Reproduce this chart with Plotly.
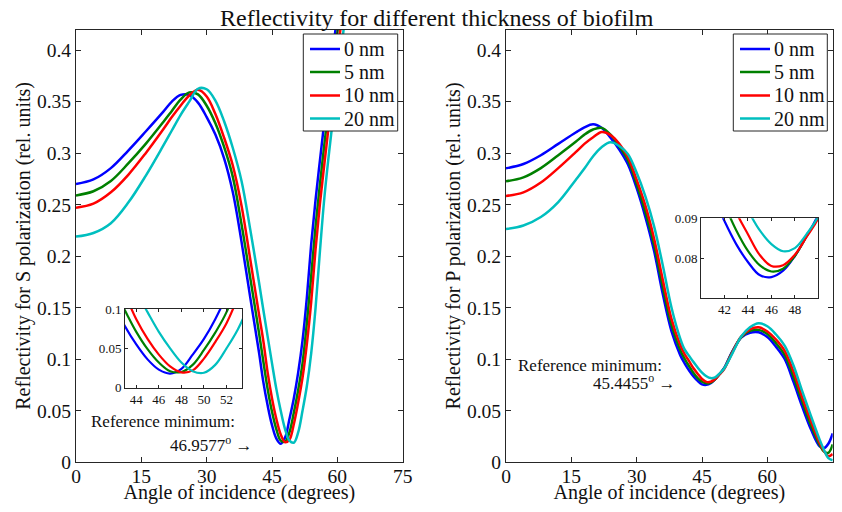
import plotly.graph_objects as go

# ---------------- data ----------------
thickness_labels = ['0 nm', '5 nm', '10 nm', '20 nm']

angles_s = [0, 4, 8, 12, 16, 20, 22, 24, 26, 28, 30, 32, 34, 36, 38, 40, 42, 43, 44, 45, 46, 47,
            48, 49, 50, 51, 52, 53, 54, 55, 56, 57, 58, 59, 60, 61, 62, 63]
s_0nm = [0.270, 0.2745, 0.2855, 0.3025, 0.321, 0.340, 0.350, 0.3565, 0.3565, 0.349, 0.335, 0.318,
         0.295, 0.262, 0.214, 0.160, 0.107, 0.078, 0.055, 0.036, 0.023, 0.018, 0.024, 0.042,
         0.062, 0.087, 0.118, 0.160, 0.212, 0.255, 0.293, 0.330, 0.366, 0.400, 0.435, 0.470,
         0.500, 0.530]
s_5nm = [0.259, 0.263, 0.273, 0.290, 0.309, 0.330, 0.341, 0.352, 0.359, 0.357, 0.346, 0.329,
         0.306, 0.277, 0.231, 0.179, 0.126, 0.098, 0.071, 0.049, 0.032, 0.021, 0.020, 0.029,
         0.048, 0.070, 0.096, 0.135, 0.181, 0.229, 0.270, 0.308, 0.344, 0.383, 0.417, 0.452,
         0.485, 0.515]
s_10nm = [0.247, 0.251, 0.262, 0.279, 0.300, 0.323, 0.335, 0.346, 0.356, 0.3615, 0.355, 0.338,
          0.315, 0.288, 0.249, 0.197, 0.144, 0.118, 0.087, 0.062, 0.042, 0.027, 0.0195, 0.022,
          0.037, 0.058, 0.082, 0.115, 0.156, 0.207, 0.251, 0.289, 0.326, 0.362, 0.397, 0.430,
          0.465, 0.500]
s_20nm = [0.219, 0.2225, 0.232, 0.252, 0.278, 0.307, 0.322, 0.337, 0.350, 0.3625, 0.362, 0.351,
          0.331, 0.305, 0.273, 0.226, 0.175, 0.148, 0.122, 0.096, 0.071, 0.050, 0.032, 0.021,
          0.019, 0.029, 0.050, 0.074, 0.106, 0.150, 0.205, 0.256, 0.297, 0.334, 0.369, 0.404,
          0.440, 0.470]

angles_p = [0, 4, 8, 12, 16, 18, 20, 22, 24, 26, 28, 30, 32, 34, 36, 38, 40, 41, 42, 43, 44,
            45, 46, 47, 48, 49, 50, 52, 54, 56, 58, 60, 62, 64, 66, 68, 70, 72, 73, 74, 75]
p_0nm = [0.2853, 0.2895, 0.298, 0.309, 0.320, 0.325, 0.328, 0.3245, 0.315, 0.3035, 0.289,
         0.266, 0.238, 0.205, 0.163, 0.127, 0.104, 0.096, 0.0893, 0.0835, 0.0790, 0.0757,
         0.0752, 0.0768, 0.0805, 0.0855, 0.091, 0.108, 0.121, 0.1257, 0.1262, 0.1215, 0.112,
         0.100, 0.078, 0.054, 0.032, 0.0155, 0.0138, 0.018, 0.028]
p_5nm = [0.2727, 0.2765, 0.2855, 0.298, 0.311, 0.318, 0.323, 0.3245, 0.318, 0.3065, 0.293,
         0.270, 0.243, 0.211, 0.170, 0.133, 0.109, 0.1005, 0.0935, 0.0870, 0.0818, 0.0782,
         0.0766, 0.0773, 0.0805, 0.0855, 0.0905, 0.1075, 0.1215, 0.1275, 0.1285, 0.1245,
         0.1155, 0.104, 0.083, 0.059, 0.036, 0.017, 0.0105, 0.0092, 0.0174]
p_10nm = [0.2585, 0.262, 0.2715, 0.2855, 0.301, 0.309, 0.3155, 0.3205, 0.3175, 0.309, 0.296,
          0.274, 0.249, 0.217, 0.177, 0.139, 0.114, 0.105, 0.0985, 0.0915, 0.0860, 0.0808,
          0.0780, 0.0782, 0.0808, 0.0853, 0.0900, 0.107, 0.122, 0.129, 0.131, 0.127, 0.119,
          0.108, 0.088, 0.063, 0.040, 0.019, 0.011, 0.0058, 0.008]
p_20nm = [0.2263, 0.2298, 0.238, 0.2525, 0.274, 0.285, 0.297, 0.306, 0.3105, 0.307, 0.299,
          0.281, 0.258, 0.229, 0.191, 0.150, 0.120, 0.1095, 0.1035, 0.0975, 0.0920, 0.0870,
          0.0835, 0.0817, 0.0825, 0.0860, 0.0905, 0.106, 0.122, 0.131, 0.135, 0.132, 0.124,
          0.113, 0.094, 0.069, 0.045, 0.022, 0.012, 0.004, 0.002]

main_xticks = [0, 15, 30, 45, 60, 75]
main_yticks = [0, 0.05, 0.1, 0.15, 0.2, 0.25, 0.3, 0.35, 0.4]
main_yticktext = ['0', '0.05', '0.1', '0.15', '0.2', '0.25', '0.3', '0.35', '0.4']
inset_s_xticks = [44, 46, 48, 50, 52]
inset_s_yticks = [0, 0.05, 0.1]
inset_s_yticktext = ['0', '0.05', '0.1']
inset_p_xticks = [42, 44, 46, 48]
inset_p_yticks = [0.08, 0.09]
inset_p_yticktext = ['0.08', '0.09']

# ---------------- figure ----------------
colors = ['#0000FF', '#008000', '#FF0000', '#00BFBF']
FONT = 'Liberation Serif'
OFF = 8                      # default body margin of the html page
W, H = 842 - 2 * OFF, 512 - 2 * OFF


def px_x(p):
    return (p - OFF) / W


def px_y(p):
    return 1 - (p - OFF) / H


fig = go.Figure()

s_series = [s_0nm, s_5nm, s_10nm, s_20nm]
p_series = [p_0nm, p_5nm, p_10nm, p_20nm]

for name, col, ys in zip(thickness_labels, colors, s_series):
    fig.add_trace(go.Scatter(x=angles_s, y=ys, mode='lines', name=name, showlegend=False,
                             line=dict(color=col, width=2.5, shape='spline', smoothing=1),
                             xaxis='x', yaxis='y'))
for name, col, ys in zip(thickness_labels, colors, p_series):
    fig.add_trace(go.Scatter(x=angles_p, y=ys, mode='lines', name=name, showlegend=False,
                             line=dict(color=col, width=2.5, shape='spline', smoothing=1),
                             xaxis='x2', yaxis='y2'))
for name, col, ys in zip(thickness_labels, colors, s_series):
    fig.add_trace(go.Scatter(x=angles_s, y=ys, mode='lines', name=name, showlegend=False,
                             line=dict(color=col, width=2.2, shape='spline', smoothing=1),
                             xaxis='x3', yaxis='y3'))
for name, col, ys in zip(thickness_labels, colors, p_series):
    fig.add_trace(go.Scatter(x=angles_p, y=ys, mode='lines', name=name, showlegend=False,
                             line=dict(color=col, width=2.2, shape='spline', smoothing=1),
                             xaxis='x4', yaxis='y4'))

axcol = '#262626'
base = dict(showline=True, linecolor=axcol, linewidth=1, mirror='ticks', ticks='inside',
            tickcolor=axcol, showgrid=False, zeroline=False, automargin=False)
tick_font = dict(family=FONT, size=19.5, color='#111')
title_font = dict(family=FONT, size=20, color='#111')
inset_font = dict(family=FONT, size=13, color='#111')

main_y = [px_y(462.3), px_y(29.5)]

fig.update_layout(
    width=W, height=H,
    margin=dict(l=0, r=0, t=0, b=0),
    paper_bgcolor='white', plot_bgcolor='white',
    font=dict(family=FONT, color='#111'),
    showlegend=False,
    xaxis=dict(base, domain=[px_x(76), px_x(402.7)], range=[0, 75], anchor='y',
               tickvals=main_xticks, ticklen=5, tickfont=tick_font, ticklabelstandoff=-4,
               title=dict(text='Angle of incidence (degrees)', font=title_font, standoff=6)),
    yaxis=dict(base, domain=main_y, range=[0, 0.42], anchor='x',
               tickvals=main_yticks, ticktext=main_yticktext, ticklen=5, tickfont=tick_font,
               title=dict(text='Reflectivity for S polarization (rel. units)', font=title_font, standoff=0)),
    xaxis2=dict(base, domain=[px_x(506), px_x(832.7)], range=[0, 75], anchor='y2',
                tickvals=main_xticks, ticklen=5, tickfont=tick_font, ticklabelstandoff=-4,
                title=dict(text='Angle of incidence (degrees)', font=title_font, standoff=6)),
    yaxis2=dict(base, domain=main_y, range=[0, 0.42], anchor='x2',
                tickvals=main_yticks, ticktext=main_yticktext, ticklen=5, tickfont=tick_font,
                title=dict(text='Reflectivity for P polarization (rel. units)', font=title_font, standoff=0)),
    xaxis3=dict(base, domain=[px_x(125), px_x(242.3)], range=[43, 53.4], anchor='y3',
                tickvals=inset_s_xticks, ticklen=3, tickfont=inset_font),
    yaxis3=dict(base, domain=[px_y(387.7), px_y(309)], range=[0, 0.1], anchor='x3',
                tickvals=inset_s_yticks, ticktext=inset_s_yticktext, ticklen=3, tickfont=inset_font),
    xaxis4=dict(base, domain=[px_x(701), px_x(818.3)], range=[40, 50], anchor='y4',
                tickvals=inset_p_xticks, ticklen=3, tickfont=inset_font),
    yaxis4=dict(base, domain=[px_y(297.7), px_y(218.3)], range=[0.07, 0.09], anchor='x4',
                tickvals=inset_p_yticks, ticktext=inset_p_yticktext, ticklen=3, tickfont=inset_font),
)

# ---- legends (MATLAB-style boxes) ----
legend_font = dict(family=FONT, size=20, color='#111')
row_y = [49, 72, 95.5, 118.5]
for box_x0, box_x1, line_x0, line_x1, text_x in [(303.3, 397.7, 310, 340, 341.5),
                                                  (733.3, 827.3, 740, 770, 771.5)]:
    fig.add_shape(type='rect', xref='paper', yref='paper',
                  x0=px_x(box_x0), x1=px_x(box_x1), y0=px_y(131), y1=px_y(34),
                  line=dict(color=axcol, width=1), fillcolor='white', layer='above')
    for name, col, ry in zip(thickness_labels, colors, row_y):
        fig.add_shape(type='line', xref='paper', yref='paper',
                      x0=px_x(line_x0), x1=px_x(line_x1), y0=px_y(ry), y1=px_y(ry),
                      line=dict(color=col, width=2.5), layer='above')
        fig.add_annotation(text=name, xref='paper', yref='paper', x=px_x(text_x), y=px_y(ry),
                           xanchor='left', yanchor='middle', showarrow=False, font=legend_font)

ann_font = dict(family=FONT, size=17, color='#111')
fig.add_annotation(text='Reflectivity for different thickness of biofilm', xref='paper', yref='paper',
                   x=px_x(437), y=px_y(17.5), xanchor='center', yanchor='middle', showarrow=False,
                   borderpad=0, font=dict(family=FONT, size=24, color='#111'))
fig.add_annotation(text='Reference minimum:', xref='x', yref='y', x=3.0, y=0.0393,
                   xanchor='left', yanchor='middle', showarrow=False, font=ann_font)
fig.add_annotation(text='46.9577<sup>o</sup> \u2192', xref='x', yref='y', x=40.8, y=0.0174,
                   xanchor='right', yanchor='middle', showarrow=False, font=ann_font)
fig.add_annotation(text='Reference minimum:', xref='x2', yref='y2', x=2.2, y=0.094,
                   xanchor='left', yanchor='middle', showarrow=False, font=ann_font)
fig.add_annotation(text='45.4455<sup>o</sup> \u2192', xref='x2', yref='y2', x=39.2, y=0.0777,
                   xanchor='right', yanchor='middle', showarrow=False, font=ann_font)

fig.write_html('out.html')
